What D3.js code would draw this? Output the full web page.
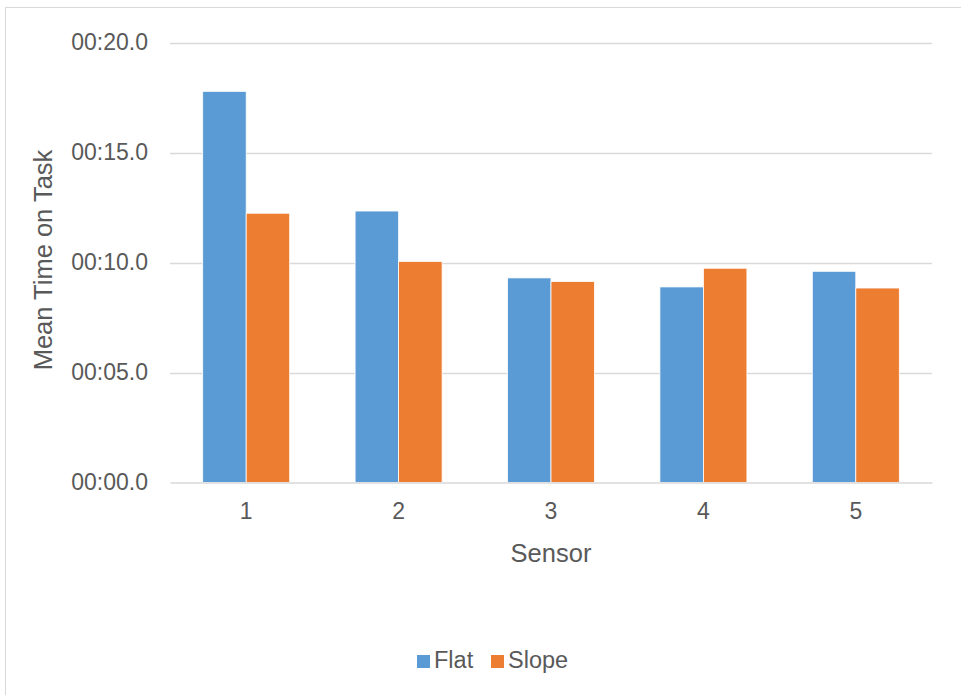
<!DOCTYPE html>
<html>
<head>
<meta charset="utf-8">
<script src="https://cdn.jsdelivr.net/npm/d3@7"></script>
<style>
  html, body { margin: 0; padding: 0; background: #fff; }
  svg { display: block; }
  text { font-family: "Liberation Sans", Arial, sans-serif; fill: #595959; }
</style>
</head>
<body>
<svg id="chart" width="961" height="695"></svg>
<script>
const categories = ["1", "2", "3", "4", "5"];
const seriesNames = ["Flat", "Slope"];
const flatValues = [17.78, 12.34, 9.30, 8.89, 9.60];   // seconds
const slopeValues = [12.24, 10.05, 9.14, 9.74, 8.84];  // seconds
const yTicks = [0, 5, 10, 15, 20];
const colors = ["#5B9BD5", "#ED7D31"];

const svg = d3.select("#chart");
const W = 961, H = 695;
const plot = { left: 170, right: 932, top: 42.5, bottom: 482.5 };

// outer border
svg.append("rect")
  .attr("x", 5.5).attr("y", 7.5)
  .attr("width", W + 10).attr("height", H + 10)
  .attr("fill", "none").attr("stroke", "#D9D9D9").attr("stroke-width", 1);

const x = d3.scaleBand().domain(categories)
  .range([plot.left, plot.right])
  .paddingInner(0.429).paddingOuter(0.2145);
const xs = d3.scaleBand().domain(seriesNames).range([0, x.bandwidth()]);
const y = d3.scaleLinear().domain([0, 20]).range([plot.bottom, plot.top]);

function fmt(v) {
  const m = Math.floor(v / 60), s = v - m * 60;
  return String(m).padStart(2, "0") + ":" + s.toFixed(1).padStart(4, "0");
}

// gridlines
svg.append("g").selectAll("line").data(yTicks.filter(d => d > 0)).join("line")
  .attr("x1", plot.left).attr("x2", plot.right)
  .attr("y1", d => Math.round(y(d)) + 0.5).attr("y2", d => Math.round(y(d)) + 0.5)
  .attr("stroke", "#D9D9D9").attr("stroke-width", 1.3);

// y tick labels via axis
const yAxis = svg.append("g").attr("transform", `translate(${plot.left},0)`)
  .call(d3.axisLeft(y).tickValues(yTicks).tickFormat(fmt).tickSize(0).tickPadding(22));
yAxis.select(".domain").remove();
yAxis.attr("font-size", null).attr("font-family", null);
yAxis.selectAll("text").style("font-size", "23px").attr("fill", "#595959");

// bars
const data = categories.map((c, i) => ({ c, vals: [flatValues[i], slopeValues[i]] }));
const groups = svg.append("g").selectAll("g").data(data).join("g")
  .attr("transform", d => `translate(${x(d.c)},0)`);
groups.selectAll("rect").data(d => d.vals.map((v, j) => ({ v, s: seriesNames[j], j })))
  .join("rect")
  .attr("x", d => xs(d.s))
  .attr("width", xs.bandwidth())
  .attr("y", d => y(d.v))
  .attr("height", d => y(0) - y(d.v))
  .attr("fill", d => colors[d.j])
  .attr("stroke", "#fff").attr("stroke-width", 0.8);

// baseline axis
const xAxis = svg.append("g").attr("transform", `translate(0,${plot.bottom})`)
  .call(d3.axisBottom(x).tickSize(0).tickPadding(20));
xAxis.attr("font-size", null).attr("font-family", null);
xAxis.select(".domain").attr("stroke", "#D9D9D9").attr("stroke-width", 1.5);
xAxis.selectAll("text").style("font-size", "23px").attr("fill", "#595959");

// axis titles
svg.append("text")
  .attr("x", (plot.left + plot.right) / 2).attr("y", 555)
  .attr("text-anchor", "middle").attr("dominant-baseline", "middle")
  .style("font-size", "25.5px").text("Sensor");
svg.append("text")
  .attr("transform", "translate(45,260) rotate(-90)")
  .attr("text-anchor", "middle").attr("dominant-baseline", "middle")
  .style("font-size", "25.5px").text("Mean Time on Task");

// legend
const legend = svg.append("g");
const legendItems = [
  { name: seriesNames[0], color: colors[0], x: 417 },
  { name: seriesNames[1], color: colors[1], x: 491 }
];
legendItems.forEach(it => {
  legend.append("rect").attr("x", it.x).attr("y", 655)
    .attr("width", 13).attr("height", 13).attr("fill", it.color);
  legend.append("text").attr("x", it.x + 17).attr("y", 661.5)
    .attr("dominant-baseline", "middle")
    .style("font-size", "23.5px").text(it.name);
});
</script>
</body>
</html>
